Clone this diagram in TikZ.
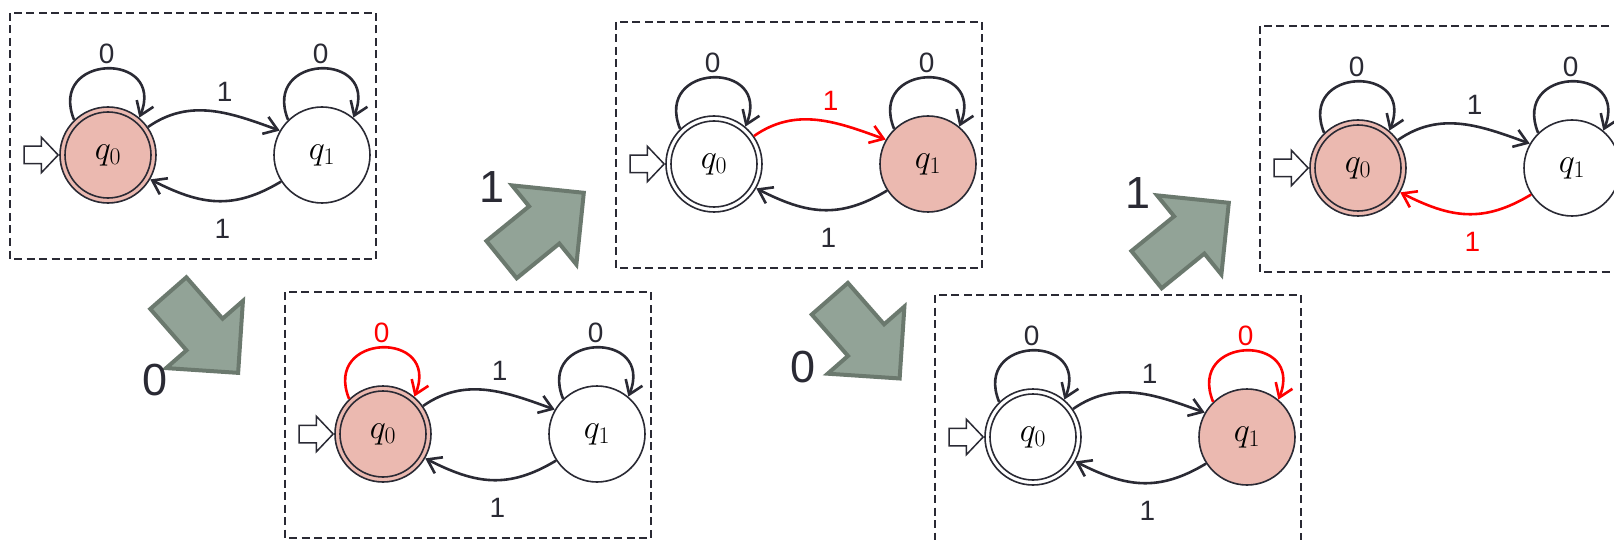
\RequirePackage{fix-cm}
\documentclass[tikz,border=0pt]{standalone}
\usepackage{fontspec}
\setmainfont{Liberation Sans}
\usepackage{tikz}
\usetikzlibrary{arrows.meta,shapes.arrows,positioning}

\definecolor{ink}{RGB}{42,42,52}
\definecolor{curfill}{RGB}{235,185,176}
\definecolor{hot}{RGB}{255,0,0}
\definecolor{stepfill}{RGB}{146,163,151}
\definecolor{stepline}{RGB}{107,121,110}

\begin{document}
\begin{tikzpicture}[x=1pt,y=1pt]
\tikzstyle{every node}+=[inner sep=0pt]
\tikzstyle{stnode}=[circle, draw=ink, line width=1.6pt, fill=white, minimum size=96pt, font=\fontsize{34}{38}\selectfont]
\tikzstyle{cur}=[fill=curfill]
\tikzstyle{ring}=[ink, line width=1.6pt]
\tikzstyle{trans}=[ink, line width=2.6pt, -{Straight Barb[length=13pt,width=18pt]}]
\tikzstyle{lbl}=[font=\fontsize{28}{32}\selectfont, text=ink]
\tikzstyle{panel}=[ink, line width=1.4pt, dash pattern=on 8pt off 4.5pt]
\tikzstyle{entry}=[single arrow, draw=ink, line width=1.5pt, fill=white, inner ysep=8pt, minimum height=34pt, single arrow head extend=9pt, single arrow tip angle=93, anchor=tip]
\tikzstyle{bigstep}=[single arrow, draw=stepline, fill=stepfill, line width=4pt, inner ysep=22pt, minimum height=106pt, single arrow head extend=27pt, single arrow tip angle=90, anchor=tip]
\tikzstyle{biglbl}=[font=\fontsize{45}{50}\selectfont, text=ink]
\useasboundingbox (0,0) rectangle (1614,-540);
% start
\draw[panel] (10,-13) rectangle (376,-259);
\node[stnode, cur] (q0a) at (108,-155) {$q_0$};
\draw[ring] (q0a) circle (43pt);
\node[stnode] (q1a) at (322,-155) {$q_1$};
\node[entry] (ina) at (q0a.west) {};
\draw[trans] (q0a.134) .. controls +(112:72) and +(68:72) .. (q0a.50) node[lbl, above=4pt, pos=0.5] (la00) {0};
\draw[trans] (q1a.134) .. controls +(112:72) and +(68:72) .. (q1a.50) node[lbl, above=4pt, pos=0.5] (la11) {0};
\draw[trans] (q0a.35) to[out=35, in=160] node[lbl, above=10pt, pos=0.6] (la01) {1} (q1a.150);
\draw[trans] (q1a.213) to[out=211, in=-27, looseness=1.1] node[lbl, below=17pt, pos=0.45] (la10) {1} (q0a.-30);
% read 0
\node[bigstep, rotate=-48.8] (stepa) at (240,-375) {};
\node[biglbl] (ra) at (155,-380) {0};
\draw[panel] (285,-292) rectangle (651,-538);
\node[stnode, cur] (q0b) at (383,-434) {$q_0$};
\draw[ring] (q0b) circle (43pt);
\node[stnode] (q1b) at (597,-434) {$q_1$};
\node[entry] (inb) at (q0b.west) {};
\draw[trans, hot] (q0b.134) .. controls +(112:72) and +(68:72) .. (q0b.50) node[lbl, text=hot, above=4pt, pos=0.5] (lb00) {0};
\draw[trans] (q1b.134) .. controls +(112:72) and +(68:72) .. (q1b.50) node[lbl, above=4pt, pos=0.5] (lb11) {0};
\draw[trans] (q0b.35) to[out=35, in=160] node[lbl, above=10pt, pos=0.6] (lb01) {1} (q1b.150);
\draw[trans] (q1b.213) to[out=211, in=-27, looseness=1.1] node[lbl, below=17pt, pos=0.45] (lb10) {1} (q0b.-30);
% read 1
\node[bigstep, rotate=39.1] (stepb) at (586,-191) {};
\node[biglbl] (rb) at (492,-187) {1};
\draw[panel] (616,-22) rectangle (982,-268);
\node[stnode] (q0c) at (714,-164) {$q_0$};
\draw[ring] (q0c) circle (43pt);
\node[stnode, cur] (q1c) at (928,-164) {$q_1$};
\node[entry] (inc) at (q0c.west) {};
\draw[trans] (q0c.134) .. controls +(112:72) and +(68:72) .. (q0c.50) node[lbl, above=4pt, pos=0.5] (lc00) {0};
\draw[trans] (q1c.134) .. controls +(112:72) and +(68:72) .. (q1c.50) node[lbl, above=4pt, pos=0.5] (lc11) {0};
\draw[trans, hot] (q0c.35) to[out=35, in=160] node[lbl, text=hot, above=10pt, pos=0.6] (lc01) {1} (q1c.150);
\draw[trans] (q1c.213) to[out=211, in=-27, looseness=1.1] node[lbl, below=17pt, pos=0.45] (lc10) {1} (q0c.-30);
% read 0
\node[bigstep, rotate=-48.8] (stepc) at (901.5,-380.6) {};
\node[biglbl] (rc) at (803,-367) {0};
\draw[panel] (935,-295) rectangle (1301,-541);
\node[stnode] (q0d) at (1033,-437) {$q_0$};
\draw[ring] (q0d) circle (43pt);
\node[stnode, cur] (q1d) at (1247,-437) {$q_1$};
\node[entry] (ind) at (q0d.west) {};
\draw[trans] (q0d.134) .. controls +(112:72) and +(68:72) .. (q0d.50) node[lbl, above=4pt, pos=0.5] (ld00) {0};
\draw[trans, hot] (q1d.134) .. controls +(112:72) and +(68:72) .. (q1d.50) node[lbl, text=hot, above=4pt, pos=0.5] (ld11) {0};
\draw[trans] (q0d.35) to[out=35, in=160] node[lbl, above=10pt, pos=0.6] (ld01) {1} (q1d.150);
\draw[trans] (q1d.213) to[out=211, in=-27, looseness=1.1] node[lbl, below=17pt, pos=0.45] (ld10) {1} (q0d.-30);
% read 1
\node[bigstep, rotate=39.1] (stepd) at (1231,-201) {};
\node[biglbl] (rd) at (1138,-193) {1};
\draw[panel] (1260,-26) rectangle (1626,-272);
\node[stnode, cur] (q0e) at (1358,-168) {$q_0$};
\draw[ring] (q0e) circle (43pt);
\node[stnode] (q1e) at (1572,-168) {$q_1$};
\node[entry] (ine) at (q0e.west) {};
\draw[trans] (q0e.134) .. controls +(112:72) and +(68:72) .. (q0e.50) node[lbl, above=4pt, pos=0.5] (le00) {0};
\draw[trans] (q1e.134) .. controls +(112:72) and +(68:72) .. (q1e.50) node[lbl, above=4pt, pos=0.5] (le11) {0};
\draw[trans] (q0e.35) to[out=35, in=160] node[lbl, above=10pt, pos=0.6] (le01) {1} (q1e.150);
\draw[trans, hot] (q1e.213) to[out=211, in=-27, looseness=1.1] node[lbl, text=hot, below=17pt, pos=0.45] (le10) {1} (q0e.-30);
\end{tikzpicture}
\end{document}
